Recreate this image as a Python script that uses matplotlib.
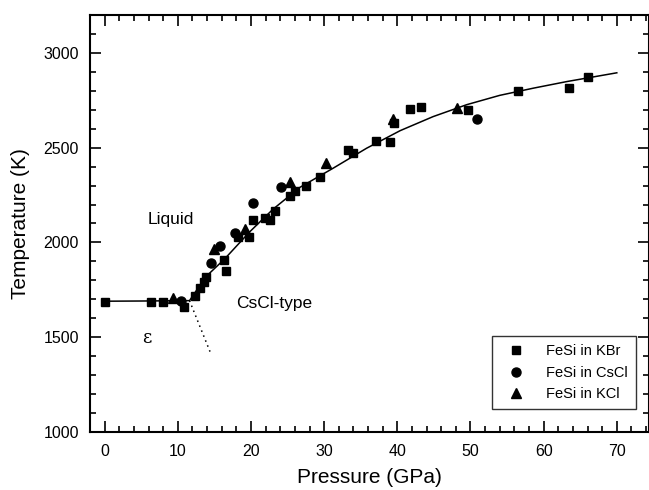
import matplotlib.pyplot as plt
from matplotlib.ticker import MultipleLocator

plt.rcParams['font.family'] = ['Liberation Sans', 'DejaVu Sans']

# FeSi in KBr
kbr_p = [0.0, 6.3, 8.0, 10.9, 12.4, 13.1, 13.6, 13.8, 16.3, 16.6, 18.2, 19.7, 20.3,
         21.9, 22.6, 23.3, 25.4, 26.0, 27.5, 29.4, 33.2, 33.9, 37.1, 39.0, 39.5,
         41.7, 43.2, 49.6, 56.5, 63.5, 66.1]
kbr_t = [1684, 1688, 1688, 1661, 1719, 1758, 1790, 1820, 1908, 1851, 2027, 2027, 2119,
         2128, 2119, 2168, 2245, 2272, 2298, 2344, 2488, 2474, 2534, 2532, 2632,
         2703, 2713, 2699, 2799, 2817, 2872]

# FeSi in CsCl
cscl_p = [10.4, 14.6, 15.8, 17.8, 20.3, 24.1, 50.9]
cscl_t = [1693, 1893, 1981, 2048, 2207, 2291, 2652]

# FeSi in KCl
kcl_p = [9.3, 14.9, 19.2, 25.3, 30.3, 39.4, 48.2]
kcl_t = [1705, 1964, 2070, 2321, 2421, 2650, 2708]

# melting curve
curve_p = [0.0, 5.0, 11.6, 13.8, 16.4, 19.8, 23.0, 26.7, 31.2, 35.8, 40.4, 44.9,
           49.5, 54.0, 58.6, 63.2, 70.0]
curve_t = [1690, 1691, 1693, 1818, 1913, 2055, 2175, 2291, 2391, 2497, 2590, 2664,
           2727, 2776, 2814, 2849, 2895]

# epsilon / CsCl-type boundary
bound_p = [11.6, 14.4]
bound_t = [1693, 1424]

fig = plt.figure(figsize=(6.49, 4.90), dpi=100)
ax = fig.add_axes([0.1387, 0.1184, 0.8613, 0.851])

ax.plot(curve_p, curve_t, color='black', lw=1.1)
ax.plot(bound_p, bound_t, color='black', lw=1.1, linestyle=(0, (1, 2.5)))

ax.plot(kbr_p, kbr_t, 's', color='black', ms=6, label='FeSi in KBr')
ax.plot(cscl_p, cscl_t, 'o', color='black', ms=6.5, label='FeSi in CsCl')
ax.plot(kcl_p, kcl_t, '^', color='black', ms=7, label='FeSi in KCl')

ax.text(9.1, 2119, 'Liquid', fontsize=12.5, ha='center', va='center')
ax.text(23.2, 1679, 'CsCl-type', fontsize=12.5, ha='center', va='center')
ax.text(5.7, 1494, 'ε', fontsize=13, ha='center', va='center', family='DejaVu Serif')

ax.set_xlim(-2, 74.4)
ax.set_ylim(1000, 3200)
ax.xaxis.set_major_locator(MultipleLocator(10))
ax.xaxis.set_minor_locator(MultipleLocator(2))
ax.yaxis.set_major_locator(MultipleLocator(500))
ax.yaxis.set_minor_locator(MultipleLocator(100))
ax.tick_params(which='both', direction='in', top=True, right=True, labelsize=11.5, width=1.2)
ax.tick_params(which='major', length=8)
ax.tick_params(axis='x', which='major', pad=9)
ax.tick_params(axis='y', which='major', pad=8)
ax.tick_params(which='minor', length=4)
for s in ax.spines.values():
    s.set_linewidth(1.5)

ax.set_xlabel('Pressure (GPa)', fontsize=15, labelpad=6)
ax.set_ylabel('Temperature (K)', fontsize=15, labelpad=10)

leg = ax.legend(loc='lower right', bbox_to_anchor=(0.977, 0.055), fontsize=10.5,
                frameon=True, fancybox=False, edgecolor='black', handletextpad=1.0,
                borderpad=0.55, labelspacing=0.5, handlelength=2.2, borderaxespad=0)
leg.get_frame().set_linewidth(1.0)

plt.savefig('out.png', dpi=100)
